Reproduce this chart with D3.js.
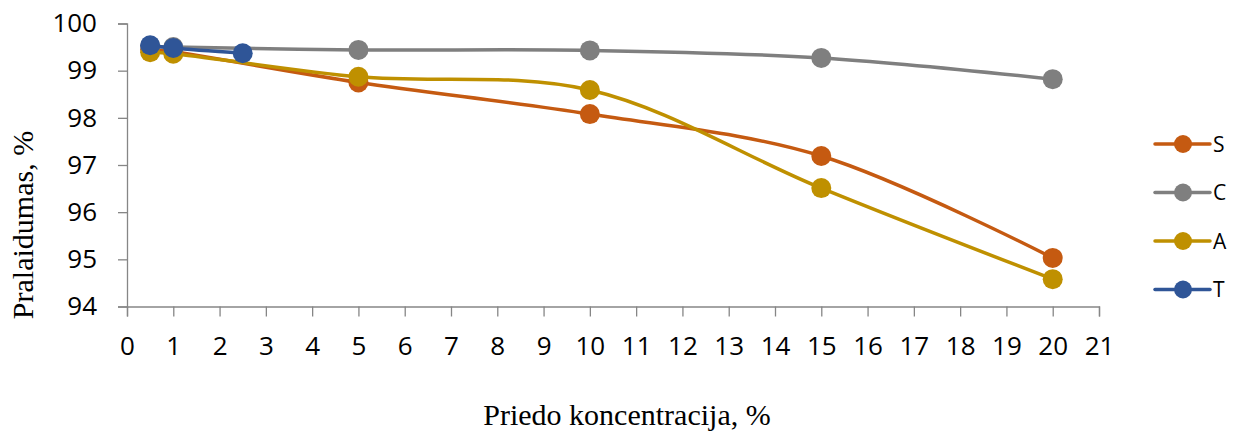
<!DOCTYPE html>
<html>
<head>
<meta charset="utf-8">
<script src="https://cdn.jsdelivr.net/npm/d3@7"></script>
<style>
  html, body { margin: 0; padding: 0; background: #fff; }
  svg { display: block; }
</style>
</head>
<body>
<svg id="chart" width="1243" height="434"></svg>
<script>
// Concentration of additive (%) and permeability (%) for each series
const xTicks = d3.range(0, 22);
const yTicks = [94, 95, 96, 97, 98, 99, 100];

const seriesNames = ["S", "C", "A", "T"];
const seriesColors = ["#C55A11", "#7F7F7F", "#BF9000", "#2F5597"];

const xS = [0.5, 1, 5, 10, 15, 20];
const yS = [99.45, 99.40, 98.75, 98.08, 97.19, 95.03];

const xC = [0.5, 1, 5, 10, 15, 20];
const yC = [99.52, 99.50, 99.44, 99.43, 99.27, 98.82];

const xA = [0.5, 1, 5, 10, 15, 20];
const yA = [99.39, 99.36, 98.87, 98.59, 96.51, 94.58];

const xT = [0.5, 1, 2.5];
const yT = [99.54, 99.48, 99.37];

const seriesX = [xS, xC, xA, xT];
const seriesY = [yS, yC, yA, yT];

const svg = d3.select("#chart");
const plot = { left: 127, right: 1099, top: 23.5, bottom: 306.5 };

const x = d3.scaleLinear().domain([0, 21]).range([plot.left, plot.right]);
const y = d3.scaleLinear().domain([94, 100]).range([plot.bottom, plot.top]);

const axisColor = "#868686";
const tickFont = "'Open Sans', 'Liberation Sans', sans-serif";
const titleFont = "'Liberation Serif', 'Times New Roman', serif";

// Y axis
const yAxis = svg.append("g")
  .attr("transform", `translate(${plot.left},0)`)
  .call(d3.axisLeft(y).tickValues(yTicks).tickSize(9).tickPadding(21).tickFormat(d3.format("d")));
yAxis.select(".domain").attr("stroke", axisColor).attr("stroke-width", 1.3);
yAxis.selectAll(".tick line").attr("stroke", axisColor).attr("stroke-width", 1.3);
yAxis.selectAll(".tick text")
  .attr("fill", "#000").style("font-family", tickFont).style("font-size", "26px");

// X axis
const xAxis = svg.append("g")
  .attr("transform", `translate(0,${plot.bottom})`)
  .call(d3.axisBottom(x).tickValues(xTicks).tickSize(10).tickPadding(20).tickFormat(d3.format("d")));
xAxis.select(".domain").attr("stroke", axisColor).attr("stroke-width", 1.3);
xAxis.selectAll(".tick line").attr("stroke", axisColor).attr("stroke-width", 1.3);
xAxis.selectAll(".tick text")
  .attr("fill", "#000").style("font-family", tickFont).style("font-size", "26px");

// Axis titles
svg.append("text")
  .attr("transform", `translate(33,225) rotate(-90)`)
  .attr("text-anchor", "middle")
  .style("font-family", titleFont)
  .style("font-size", "30px")
  .text("Pralaidumas, %");

svg.append("text")
  .attr("x", 627)
  .attr("y", 425)
  .attr("text-anchor", "middle")
  .style("font-family", titleFont)
  .style("font-size", "30px")
  .text("Priedo koncentracija, %");

// Smoothed series lines with markers
const line = d3.line()
  .x(d => x(d[0]))
  .y(d => y(d[1]))
  .curve(d3.curveCatmullRom.alpha(0.5));

seriesNames.forEach((name, i) => {
  const pts = seriesX[i].map((v, j) => [v, seriesY[i][j]]);
  const g = svg.append("g");
  g.append("path")
    .datum(pts)
    .attr("d", line)
    .attr("fill", "none")
    .attr("stroke", seriesColors[i])
    .attr("stroke-width", 3.5)
    .attr("stroke-linejoin", "round");
  g.selectAll("circle")
    .data(pts)
    .join("circle")
    .attr("cx", d => x(d[0]))
    .attr("cy", d => y(d[1]))
    .attr("r", 10)
    .attr("fill", seriesColors[i]);
});

// Legend
const legend = svg.append("g");
seriesNames.forEach((name, i) => {
  const ly = 144 + i * 48.5;
  legend.append("line")
    .attr("x1", 1155).attr("x2", 1210)
    .attr("y1", ly).attr("y2", ly)
    .attr("stroke", seriesColors[i])
    .attr("stroke-width", 3.5)
    .attr("stroke-linecap", "round");
  legend.append("circle")
    .attr("cx", 1183).attr("cy", ly).attr("r", 9)
    .attr("fill", seriesColors[i]);
  legend.append("text")
    .attr("x", 1213).attr("y", ly)
    .attr("dy", "0.36em")
    .style("font-family", tickFont)
    .style("font-size", "21px")
    .text(name);
});
</script>
</body>
</html>
